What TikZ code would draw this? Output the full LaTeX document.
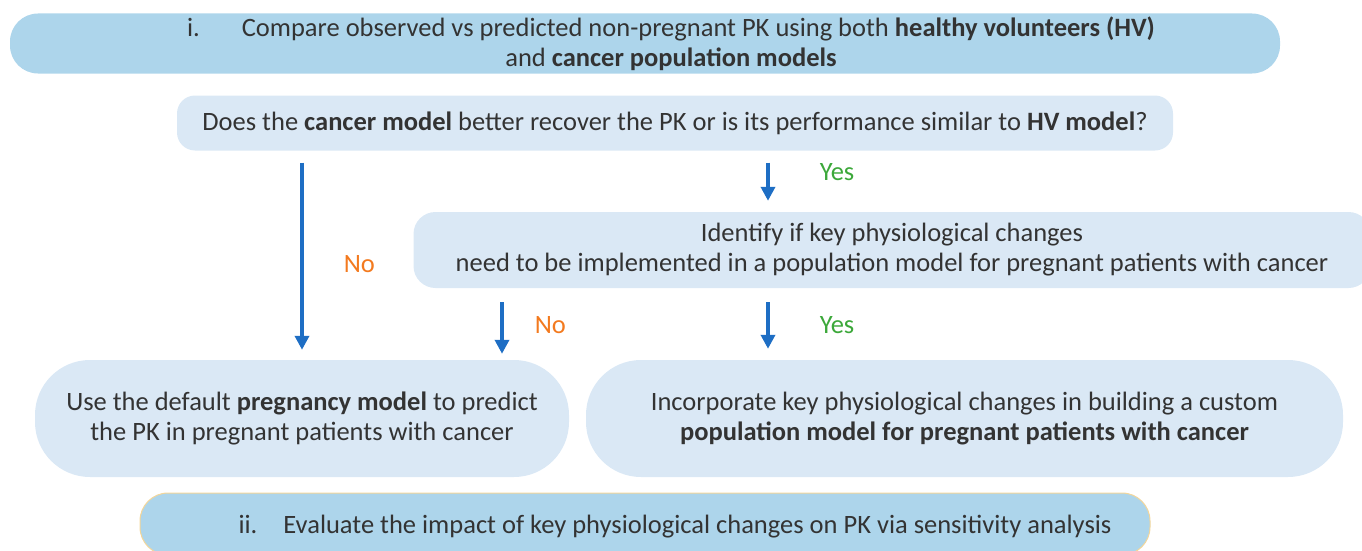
\documentclass[tikz,border=0pt]{standalone}
\usepackage{fontspec}
\setmainfont{Carlito}
\usetikzlibrary{arrows.meta}

\definecolor{phasefill}{HTML}{ADD5EB}
\definecolor{phaseedge}{HTML}{F3D69A}
\definecolor{stepfill}{HTML}{DAE8F5}
\definecolor{flowblue}{HTML}{1E6EC4}
\definecolor{noorange}{HTML}{F37A1F}
\definecolor{yesgreen}{HTML}{3CA83A}
\definecolor{ink}{HTML}{333333}

\begin{document}
\begin{tikzpicture}[x=1pt, y=-1pt,
    every node/.style={font=\fontsize{26.5}{30}\selectfont, text=ink},
    phase/.style={fill=phasefill, rounded corners=28pt},
    stepbox/.style={fill=stepfill, align=center},
    flow/.style={draw=flowblue, line width=3.5pt, -{Triangle[length=14pt, width=14pt]}},
    no/.style={text=noorange, inner sep=0pt},
    yes/.style={text=yesgreen, inner sep=0pt}]
    \useasboundingbox (0,0) rectangle (1362,551);

    % Nodes
    \node[phase, minimum width=1270pt, minimum height=60pt,
        label={[xshift=26pt, align=center]center:{i.\hspace{42pt}Compare observed vs predicted non-pregnant PK using both \textbf{healthy volunteers (HV)}\\ and \textbf{cancer population models}}}]
        (compare) at (645,43.5) {};
    \node[stepbox, rounded corners=18pt, minimum width=996pt, minimum height=55pt]
        (question) at (675,123) {Does the \textbf{cancer model} better recover the PK or is its performance similar to \textbf{HV model}?};
    \node[stepbox, rounded corners=22pt, minimum width=957pt, minimum height=76pt]
        (identify) at (892,250) {Identify if key physiological changes\\ need to be implemented in a population model for pregnant patients with cancer};
    \node[stepbox, rounded corners=55pt, minimum width=534pt, minimum height=117pt]
        (usedefault) at (302,418.5) {Use the default \textbf{pregnancy model} to predict\\ the PK in pregnant patients with cancer};
    \node[stepbox, rounded corners=55pt, minimum width=757pt, minimum height=117pt]
        (incorporate) at (964.5,418.5) {Incorporate key physiological changes in building a custom\\ \textbf{population model for pregnant patients with cancer}};
    \node[phase, draw=phaseedge, line width=1pt, minimum width=1010pt, minimum height=62pt,
        label={[xshift=30pt, yshift=-3pt]center:{ii.\hspace{26pt}Evaluate the impact of key physiological changes on PK via sensitivity analysis}}]
        (evaluate) at (645,524) {};

    % Columns for the arrows
    \coordinate (nocol) at (302,0);
    \coordinate (splitcol) at (502,0);
    \coordinate (yescol) at (768,0);

    % Arrows
    \draw[flow, shorten <=12pt, shorten >=10pt] (question.south -| nocol)
        -- node[no, pos=0.54, right=40pt] {No} (usedefault.north -| nocol);
    \draw[flow, shorten <=12pt, shorten >=11pt] (question.south -| yescol)
        -- node[yes, pos=0.35, right=50pt] {Yes} (identify.north -| yescol);
    \draw[flow, shorten <=14pt, shorten >=6pt] (identify.south -| splitcol)
        -- node[no, pos=0.51, right=31pt] {No} (usedefault.north -| splitcol);
    \draw[flow, shorten <=14pt, shorten >=11pt] (identify.south -| yescol)
        -- node[yes, pos=0.51, right=50pt] {Yes} (incorporate.north -| yescol);
\end{tikzpicture}
\end{document}
